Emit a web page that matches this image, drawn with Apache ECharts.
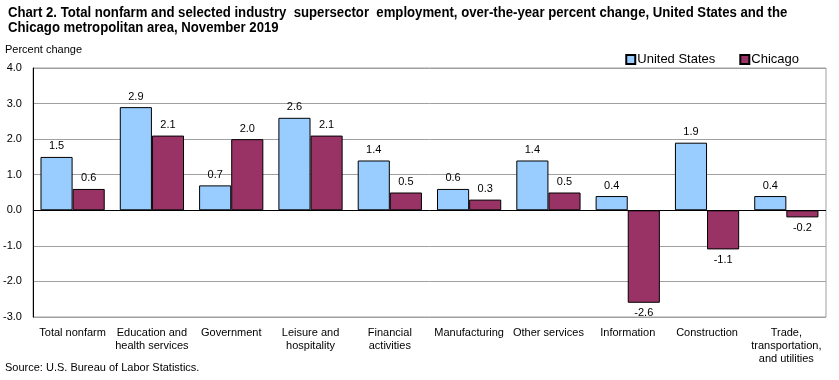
<!DOCTYPE html>
<html><head><meta charset="utf-8">
<script src="https://cdn.jsdelivr.net/npm/echarts@6/dist/echarts.min.js"></script>
<style>html,body{margin:0;padding:0;background:#fff}#c{width:839px;height:380px}</style>
</head><body><div id="c"></div>
<script>
const categories = ["Total nonfarm","Education and\nhealth services","Government","Leisure and\nhospitality","Financial\nactivities","Manufacturing","Other services","Information","Construction","Trade,\ntransportation,\nand utilities"];
const usValues = [1.5,2.9,0.7,2.6,1.4,0.6,1.4,0.4,1.9,0.4];
const chicagoValues = [0.6,2.1,2.0,2.1,0.5,0.3,0.5,-2.6,-1.1,-0.2];
const yTicks = [-3,-2,-1,0,1,2,3,4];

const font = "Liberation Sans, Arial, sans-serif";
function mk(vals){
  return vals.map(v => ({value:v, label:{position: v < 0 ? 'bottom' : 'top'}}));
}
const chart = echarts.init(document.getElementById('c'));
chart.setOption({
  animation:false,
  textStyle:{fontFamily:font},
  graphic:[
    {type:'text', x:8, y:6, scaleX:0.94, scaleY:1, originX:0, originY:0,
     style:{text:"Chart 2. Total nonfarm and selected industry  supersector  employment, over-the-year percent change, United States and the\nChicago metropolitan area, November 2019",
     font:'bold 14px '+font, fill:'#000', lineHeight:15}},
    {type:'text', left:5, top:44, style:{text:'Percent change', font:'11px '+font, fill:'#000'}},
    {type:'text', left:5, top:362, style:{text:'Source: U.S. Bureau of Labor Statistics.', font:'11px '+font, fill:'#000'}}
  ],
  legend:{
    right:35, top:48, itemGap:24, itemWidth:9, itemHeight:9,
    icon:'rect',
    textStyle:{fontSize:13, color:'#000', fontFamily:font, padding:[0,0,0,-3]},
    data:['United States','Chicago']
  },
  grid:{left:31, right:13, top:68, bottom:63, show:true, borderColor:'#a0a0a0', borderWidth:1},
  xAxis:{
    type:'category', data:categories,
    axisLine:{show:false}, axisTick:{show:false},
    axisLabel:{color:'#000', fontSize:11, margin:9, interval:0, lineHeight:13}
  },
  yAxis:{
    type:'value', min:-3, max:4, interval:1,
    axisLine:{show:true, lineStyle:{color:'#000'}},
    axisTick:{show:false},
    axisLabel:{color:'#000', fontSize:11, margin:11, formatter:v=>v.toFixed(1)},
    splitLine:{lineStyle:{color:'#a0a0a0'}}
  },
  series:[
    {name:'United States', type:'bar', data:mk(usValues), barGap:'0%', barCategoryGap:'19%',
     itemStyle:{color:'#99ccff', borderColor:'#000', borderWidth:1},
     label:{show:true, color:'#000', fontSize:11, distance:5, formatter:p=>p.value.toFixed(1)},
     markLine:{silent:true, symbol:'none', label:{show:false}, lineStyle:{color:'#000', type:'solid', width:1}, data:[{yAxis:0}]}},
    {name:'Chicago', type:'bar', data:mk(chicagoValues),
     itemStyle:{color:'#993366', borderColor:'#000', borderWidth:1},
     label:{show:true, color:'#000', fontSize:11, distance:5, formatter:p=>p.value.toFixed(1)}}
  ]
});
</script></body></html>
